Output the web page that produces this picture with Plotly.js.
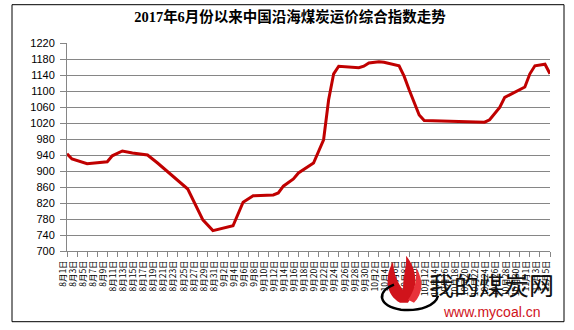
<!DOCTYPE html>
<html>
<head>
<meta charset="utf-8">
<script src="https://cdn.plot.ly/plotly-3.0.1.min.js"></script>
<style>html,body{margin:0;padding:0;background:#fff;}#chart{width:574px;height:330px;}</style>
</head>
<body>
<div id="chart"></div>
<script>
// ---- data ----
var titleText = "2017年6月份以来中国沿海煤炭运价综合指数走势";
var dates = ["2017-08-01","2017-08-02","2017-08-05","2017-08-09","2017-08-10","2017-08-12","2017-08-14","2017-08-17",
  "2017-08-19","2017-08-22","2017-08-25","2017-08-28","2017-08-30","2017-09-03","2017-09-05","2017-09-07",
  "2017-09-11","2017-09-12","2017-09-13","2017-09-15","2017-09-16","2017-09-19","2017-09-21","2017-09-22",
  "2017-09-23","2017-09-24","2017-09-28","2017-09-29","2017-09-30","2017-10-02","2017-10-03","2017-10-06",
  "2017-10-07","2017-10-08","2017-10-10","2017-10-11","2017-10-23","2017-10-24","2017-10-26","2017-10-27",
  "2017-10-31","2017-11-01","2017-11-02","2017-11-04","2017-11-05"];
var values = [943,930,918,923,938,950,945,940,
  920,887,855,778,751,763,822,838,
  840,845,862,880,895,920,978,1078,
  1143,1162,1158,1162,1170,1173,1172,1163,
  1137,1103,1040,1026,1022,1028,1059,1084,
  1110,1143,1163,1167,1143];
var tickLabels = ["8月1日","8月3日","8月5日","8月7日","8月9日","8月11日","8月13日","8月15日","8月17日","8月19日",
  "8月21日","8月23日","8月25日","8月27日","8月29日","8月31日",
  "9月2日","9月4日","9月6日","9月8日","9月10日","9月12日","9月14日","9月16日","9月18日","9月20日",
  "9月22日","9月24日","9月26日","9月28日","9月30日",
  "10月2日","10月4日","10月6日","10月8日","10月10日","10月12日","10月14日","10月16日","10月18日","10月20日",
  "10月22日","10月24日","10月26日","10月28日","10月30日",
  "11月1日","11月3日","11月5日"];
var watermarkCn = "我的煤炭网";
var watermarkUrl = "www.mycoal.cn";

// tick positions derived from the label text
var tickVals = tickLabels.map(function(s){
  var m = s.match(/(\d+)月(\d+)日/);
  var mm = ("0"+m[1]).slice(-2), dd = ("0"+m[2]).slice(-2);
  return "2017-"+mm+"-"+dd;
});

// pixel -> paper helpers for decorations
var L=67, R=550, T=43.3, B=251.3;
function px(x){return (x-L)/(R-L);}
function py(y){return (B-y)/(B-T);}
function path(pts){
  return pts.map(function(p){
    if (typeof p === "string") return p;
    return px(p[0]).toFixed(4)+","+py(p[1]).toFixed(4);
  }).join(" ");
}

var trace = {
  x: dates, y: values, type: "scatter", mode: "lines",
  line: {color: "#c00000", width: 3}, hoverinfo: "x+y"
};

var grey = "#868686";
var layout = {
  width: 574, height: 330,
  margin: {l: L, r: 574-R, t: T, b: 330-B, pad: 0},
  paper_bgcolor: "#ffffff", plot_bgcolor: "#ffffff",
  showlegend: false,
  title: {
    text: titleText,
    font: {family: "Liberation Serif, Noto Sans CJK SC, serif", size: 14.5, color: "#000", weight: "bold"},
    x: 290/574, xanchor: "center", xref: "container",
    y: 1-17/330, yanchor: "middle", yref: "container"
  },
  xaxis: {
    type: "date",
    range: ["2017-08-01", "2017-11-05"],
    tickmode: "array", tickvals: tickVals, ticktext: tickLabels,
    tickangle: -90,
    tickfont: {family: "Noto Sans CJK SC, sans-serif", size: 8.5, color: "#000"},
    ticks: "outside", ticklen: 5, tickcolor: grey, tickwidth: 1,
    showline: true, linecolor: grey, linewidth: 1,
    showgrid: false, zeroline: false,
    ticklabelshift: -4
  },
  yaxis: {
    range: [700, 1220], tick0: 700, dtick: 40,
    tickfont: {family: "Liberation Sans, Arial, sans-serif", size: 11, color: "#000"},
    ticks: "outside", ticklen: 6, tickcolor: grey, tickwidth: 1,
    showline: true, linecolor: grey, linewidth: 1,
    showgrid: true, gridcolor: grey, gridwidth: 1,
    zeroline: false, ticklabelstandoff: 3
  },
  shapes: [
    {type: "rect", xref: "paper", yref: "paper", layer: "above",
     x0: px(12), x1: px(564), y0: py(5), y1: py(322),
     line: {color: "#000", width: 1}, fillcolor: "rgba(0,0,0,0)"},
    // flame logo (decoration)
    {type: "path", xref: "paper", yref: "paper", layer: "above",
     path: path(["M",[400,303],"C",[386,295],[384,278],[393,262],"C",[394,276],[398,283],[403,290],
                 "C",[403,276],[407,266],[406,256],"C",[416,268],[420,286],[408,303],"Z"]),
     fillcolor: "#d0131b", line: {width: 0}},
    {type: "path", xref: "paper", yref: "paper", layer: "above",
     path: path(["M",[408,300],"C",[414,292],[417,282],[416,268],"C",[424,280],[423,294],[414,303],"Z"]),
     fillcolor: "#e8323a", line: {width: 0}},
    {type: "path", xref: "paper", yref: "paper", layer: "above",
     path: path(["M",[394,285],"C",[376,292],[378,306],[401,310],"C",[421,312],[436,305],[438,296]]),
     fillcolor: "rgba(0,0,0,0)", line: {color: "#000", width: 2.5}}
  ],
  annotations: [
    {text: watermarkCn, xref: "paper", yref: "paper", x: px(491), y: py(284),
     xanchor: "center", yanchor: "middle", showarrow: false,
     font: {family: "Noto Sans CJK SC, sans-serif", size: 25, color: "#111"}},
    {text: watermarkUrl, xref: "paper", yref: "paper", x: px(491), y: py(312),
     xanchor: "center", yanchor: "middle", showarrow: false,
     font: {family: "Liberation Sans, Arial, sans-serif", size: 14, color: "#d0131b"}}
  ]
};

Plotly.newPlot("chart", [trace], layout, {displayModeBar: false, staticPlot: true});
</script>
</body>
</html>
